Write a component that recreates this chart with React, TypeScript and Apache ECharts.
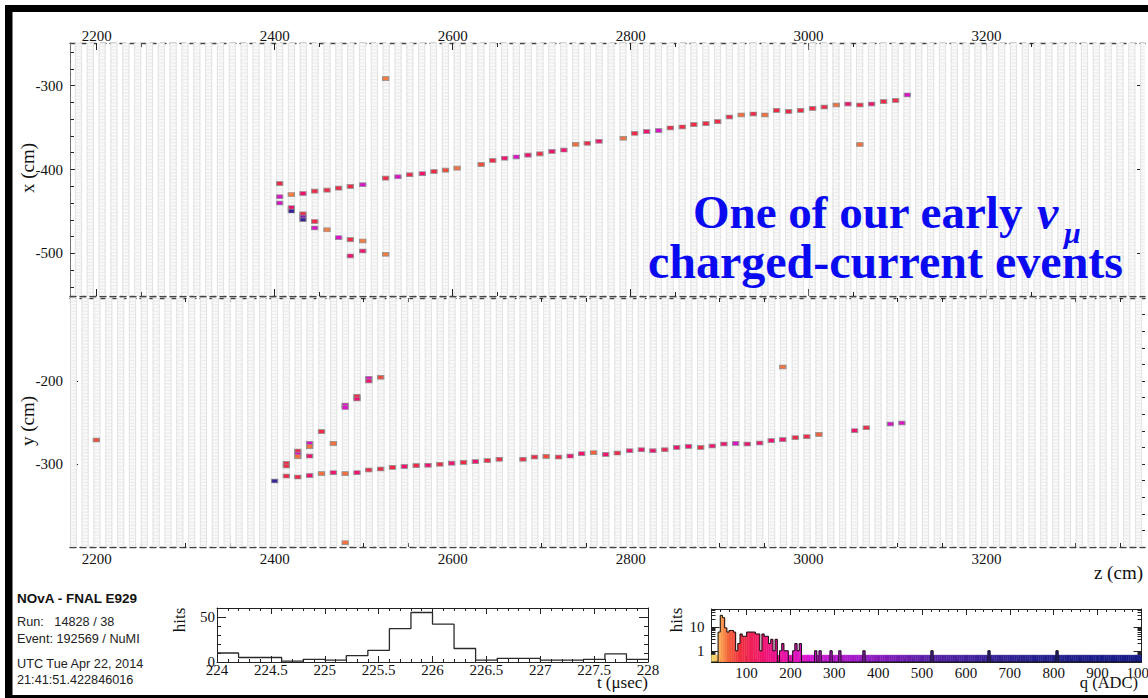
import React, { useEffect, useRef } from "react";
import * as echarts from "echarts";

const SERIF = '"Liberation Serif", "Times New Roman", serif';
const SANS = '"Liberation Sans", Arial, sans-serif';

// ---------------- event display (two views) ----------------
const zTickLabels = [2200, 2400, 2600, 2800, 3000, 3200];
const xViewTickLabels = [-300, -400, -500];
const yViewTickLabels = [-200, -300];
const Z_MIN = 2170;
const Z_MAX = 3378;
const XV_MIN = -551;
const XV_MAX = -249;
const YV_MIN = -400;
const YV_MAX = -100;

// detector geometry (plane positions, cell pitch)
const xPlaneZ0 = 2405.6;
const yPlaneZ0 = 2399.8;
const planePitch = 13.3;
const cellPitch = 3.97;

// hits in the x view: [z (cm), x (cm), charge (ADC)]
const xViewHits: number[][] = [
  [2405.6, -416.7, 100], [2405.6, -432.5, 230], [2405.6, -440.0, 230],
  [2418.7, -429.8, 52], [2418.7, -445.6, 140], [2418.7, -449.6, 650],
  [2431.8, -428.6, 140], [2431.8, -453.0, 95], [2431.8, -456.7, 400], [2431.8, -460.0, 650],
  [2445.0, -425.8, 95], [2445.0, -462.0, 95], [2445.0, -469.8, 230],
  [2458.8, -424.6, 95], [2458.8, -472.0, 52],
  [2471.9, -422.2, 95], [2471.9, -481.4, 230],
  [2485.0, -420.2, 95], [2485.0, -483.7, 95], [2485.0, -503.2, 140],
  [2499.0, -418.2, 230], [2499.0, -485.3, 52], [2499.0, -497.3, 140],
  [2524.7, -291.5, 52], [2524.7, -410.3, 95], [2524.7, -501.2, 52],
  [2538.5, -408.7, 230], [2551.7, -406.3, 95], [2565.9, -405.0, 140], [2579.0, -402.4, 95],
  [2592.0, -400.8, 70], [2605.0, -398.4, 55], [2632.0, -394.0, 70], [2645.0, -389.3, 95],
  [2658.4, -386.5, 140], [2671.5, -385.0, 230], [2684.6, -382.8, 140], [2698.0, -381.3, 95],
  [2711.6, -378.4, 140], [2725.0, -376.8, 140], [2738.2, -369.9, 55], [2751.3, -368.7, 95],
  [2764.4, -366.3, 140], [2791.7, -362.7, 55], [2804.5, -356.8, 95], [2818.0, -354.8, 140],
  [2831.5, -353.6, 230], [2844.6, -350.4, 95], [2858.0, -349.2, 95], [2871.0, -346.4, 95],
  [2884.6, -345.2, 95], [2897.8, -342.9, 95], [2910.9, -337.3, 95], [2924.3, -334.9, 55],
  [2937.8, -333.7, 95], [2950.9, -334.9, 55], [2964.0, -329.4, 95], [2977.5, -330.6, 95],
  [2991.0, -329.4, 95], [3004.5, -327.0, 95], [3017.6, -325.4, 95], [3031.0, -323.0, 55],
  [3044.2, -321.8, 140], [3057.6, -323.0, 95], [3057.6, -370.2, 55], [3070.8, -321.8, 140],
  [3084.3, -319.0, 95], [3097.8, -317.5, 95], [3110.9, -311.0, 230],
];

// hits in the y view: [z (cm), y (cm), charge (ADC)]
const yViewHits: number[][] = [
  [2199.6, -271.1, 70],
  [2400.0, -320.5, 650],
  [2413.1, -299.2, 95], [2413.1, -302.4, 95], [2413.1, -314.5, 95],
  [2426.0, -284.3, 95], [2426.0, -288.0, 230], [2426.0, -291.2, 55], [2426.0, -315.7, 95],
  [2439.3, -275.0, 230], [2439.3, -279.1, 55], [2439.3, -290.4, 140], [2439.3, -314.0, 140],
  [2452.6, -261.0, 95], [2452.6, -311.6, 55],
  [2465.9, -275.2, 55], [2465.9, -310.5, 140],
  [2479.2, -228.9, 230], [2479.2, -232.0, 230], [2479.2, -311.6, 55], [2479.2, -394.8, 55],
  [2492.5, -218.5, 95], [2492.5, -221.7, 140], [2492.5, -310.5, 140],
  [2505.8, -196.7, 230], [2505.8, -200.0, 140], [2505.8, -307.2, 95],
  [2519.1, -195.5, 70], [2519.1, -306.0, 95],
  [2532.4, -304.0, 95], [2545.7, -303.0, 140], [2559.0, -302.0, 95], [2572.3, -301.5, 140],
  [2585.6, -300.3, 95], [2598.9, -299.0, 140], [2612.2, -298.0, 95], [2625.5, -297.2, 140],
  [2638.9, -296.0, 95], [2652.4, -294.3, 95], [2679.0, -294.3, 95], [2692.0, -291.6, 95],
  [2705.0, -290.8, 70], [2719.0, -291.6, 95], [2732.0, -290.4, 140], [2745.0, -287.6, 140],
  [2758.4, -286.4, 60], [2772.0, -288.4, 140], [2785.0, -286.8, 95], [2798.9, -284.0, 140],
  [2812.0, -282.8, 140], [2825.0, -284.0, 140], [2838.4, -282.8, 110], [2851.7, -280.0, 140],
  [2865.0, -278.8, 140], [2878.7, -280.0, 95], [2891.7, -278.3, 140], [2904.8, -275.9, 140],
  [2918.0, -275.1, 230], [2931.0, -275.9, 140], [2945.0, -274.7, 140], [2958.0, -271.9, 140],
  [2971.0, -270.7, 140], [2971.0, -183.1, 55], [2985.0, -268.3, 95], [2998.0, -267.1, 95],
  [3011.6, -264.3, 60], [3051.7, -259.9, 140], [3064.8, -256.3, 95], [3091.8, -251.8, 230],
  [3104.8, -250.6, 230],
];

// ---------------- time histogram ----------------
const timeBinEdges = [224.0, 224.2, 224.4, 224.6, 224.8, 225.0, 225.2, 225.4, 225.6, 225.8,
  226.0, 226.2, 226.4, 226.6, 226.8, 227.0, 227.2, 227.4, 227.6, 227.8];
const timeBinWidth = 0.2;
const timeCounts = [10, 5, 5, 1, 3, 2, 7, 13, 37, 55, 42, 15, 2, 4, 4, 2, 2, 3, 9, 3];
const timeTickLabels = [224, 224.5, 225, 225.5, 226, 226.5, 227, 227.5, 228];
const timeHitLabels = [0, 50];

// ---------------- charge histogram ----------------
const chargeBinWidth = 5;
const chargeBinStarts = [20, 25, 30, 35, 40, 45, 50, 55, 60, 65, 70, 75, 80, 85, 90, 95, 100,
  105, 110, 115, 120, 125, 130, 135, 140, 145, 150, 155, 160, 165, 170, 175, 180, 185, 190,
  195, 200, 205, 210, 215, 220, 225, 230];
const chargeCounts = [0, 0, 0, 6, 30, 24, 9, 6, 7, 7, 6, 1, 2, 5, 4, 4, 6, 6, 6, 6, 5, 5, 1,
  5, 4, 4, 2, 3, 1, 3, 0, 1, 2, 1, 1, 0, 0, 1, 2, 1, 2, 0, 0];
const chargeSpikes: number[][] = [[255, 1], [265, 1], [290, 1], [310, 1], [365, 1], [520, 1], [650, 1], [805, 1]];
const chargeTickLabels = [100, 200, 300, 400, 500, 600, 700, 800, 900, 1000];
const chargeHitLabels = [1, 10];
const Q_MIN = 20;
const Q_MAX = 1000;
const QY_MIN = 0.34;
const QY_MAX = 55;
const Q_BAND = 0.66;

// colour palette (charge -> colour)
const paletteStops: [number, string][] = [
  [20, "#fbe46e"], [33, "#fcc062"], [45, "#f99448"], [60, "#f3603a"], [85, "#f0303f"],
  [140, "#f01470"], [190, "#e612aa"], [250, "#d414d6"], [340, "#a417c8"], [430, "#7a1cb6"],
  [520, "#5520a6"], [640, "#3a2198"], [760, "#25208e"], [1000, "#151a86"],
];

function hexRgb(h: string) {
  const n = parseInt(h.slice(1), 16);
  return [(n >> 16) & 255, (n >> 8) & 255, n & 255];
}
function paletteColor(q: number): string {
  const s = paletteStops;
  if (q <= s[0][0]) return s[0][1];
  for (let i = 0; i < s.length - 1; i++) {
    if (q <= s[i + 1][0]) {
      const t = (q - s[i][0]) / (s[i + 1][0] - s[i][0]);
      const a = hexRgb(s[i][1]);
      const b = hexRgb(s[i + 1][1]);
      const c = a.map((v, k) => Math.round(v + (b[k] - v) * t));
      return `rgb(${c[0]},${c[1]},${c[2]})`;
    }
  }
  return s[s.length - 1][1];
}

function range(a: number, b: number, s: number) {
  const r: number[] = [];
  for (let v = a; v <= b + 1e-9; v += s) r.push(Math.round(v * 1000) / 1000);
  return r;
}

const AX = "#222";

function axisPair(o: any) {
  const base = {
    gridIndex: o.grid,
    position: o.pos,
    type: o.type || "value",
    min: o.min,
    max: o.max,
    splitLine: { show: false },
    silent: true,
  };
  const major = {
    ...base,
    axisLine: {
      show: o.line !== "none",
      onZero: false,
      lineStyle: { color: o.lineColor || AX, width: o.lineWidth || 1, type: o.line === "dashed" ? [6, 4] : "solid" },
    },
    axisTick: { show: true, inside: true, length: o.majorLen, customValues: o.majors, lineStyle: { color: AX, width: 1 } },
    axisLabel: o.labels
      ? {
          show: true,
          customValues: o.labels,
          margin: o.margin,
          fontFamily: SERIF,
          fontSize: o.fontSize || 15,
          color: "#111",
          hideOverlap: false,
          formatter: (v: number) => String(v),
        }
      : { show: false },
  };
  const minor = {
    ...base,
    axisLine: { show: false, onZero: false },
    axisTick: { show: true, inside: true, length: o.minorLen, customValues: o.minors, lineStyle: { color: AX, width: 1 } },
    axisLabel: { show: false },
  };
  return [major, minor];
}

function planeSeries(xAxisIndex: number, yAxisIndex: number, z0: number, yMin: number, yMax: number) {
  const planes = range(z0 - 18 * planePitch, Z_MAX + planePitch, planePitch).map((z) => [z, yMin]);
  return {
    type: "custom",
    xAxisIndex,
    yAxisIndex,
    data: planes,
    encode: { x: 0, y: 1 },
    clip: true,
    silent: true,
    z: 1,
    renderItem: (params: any, api: any) => {
      const z = api.value(0);
      const top = api.coord([z, yMax]);
      const bot = api.coord([z, yMin]);
      const w = 6.2;
      const x0 = top[0] - w / 2;
      const x1 = top[0] + w / 2;
      const pts: number[][] = [];
      let i = 0;
      for (let v = yMax; v >= yMin; v -= cellPitch) {
        const py = api.coord([z, v])[1];
        if (i % 2 === 0) pts.push([x0, py], [x1, py]);
        else pts.push([x1, py], [x0, py]);
        i++;
      }
      return {
        type: "group",
        children: [
          { type: "rect", shape: { x: x0, y: top[1], width: w, height: bot[1] - top[1] }, style: { fill: "#f9f9f9", stroke: "#dedede", lineWidth: 0.8 } },
          { type: "polyline", shape: { points: pts }, style: { fill: null, stroke: "#e3e3e3", lineWidth: 0.6 } },
        ],
      };
    },
  };
}

function hitSeries(xAxisIndex: number, yAxisIndex: number, hits: number[][]) {
  return {
    type: "scatter",
    xAxisIndex,
    yAxisIndex,
    symbol: "rect",
    symbolSize: [6.2, 3.9],
    clip: true,
    z: 5,
    silent: true,
    itemStyle: { borderColor: "#909090", borderWidth: 0.9, opacity: 1 },
    data: hits.map((h) => ({ value: [h[0], h[1]], itemStyle: { color: paletteColor(h[2]) } })),
  };
}

function txt(text: string, x: number, y: number, o: any = {}) {
  return {
    type: "text",
    x,
    y,
    rotation: o.rotation || 0,
    z: o.z || 50,
    silent: true,
    style: {
      text,
      fill: o.color || "#111",
      fontSize: o.size || 15,
      fontFamily: o.family || SERIF,
      fontWeight: o.weight || "normal",
      fontStyle: o.style || "normal",
      textAlign: o.align || "left",
      align: o.align || "left",
      textVerticalAlign: "middle",
      verticalAlign: "middle",
    },
  };
}

function buildOption() {
  const xAxes: any[] = [];
  const yAxes: any[] = [];
  const addX = (o: any) => { const i = xAxes.length; xAxes.push(...axisPair(o)); return i; };
  const addY = (o: any) => { const i = yAxes.length; yAxes.push(...axisPair(o)); return i; };

  const zMinors = range(2200, 3350, 50);
  // grid 0: x view
  const gx0 = addX({ grid: 0, pos: "top", min: Z_MIN, max: Z_MAX, line: "dashed", lineColor: "#444", lineWidth: 1.4, majors: zTickLabels, minors: zMinors, labels: zTickLabels, margin: 0, majorLen: 7, minorLen: 4 });
  addX({ grid: 0, pos: "bottom", min: Z_MIN, max: Z_MAX, line: "dashed", lineColor: "#444", lineWidth: 1.4, majors: zTickLabels, minors: zMinors, majorLen: 7, minorLen: 4 });
  const gy0 = addY({ grid: 0, pos: "left", min: XV_MIN, max: XV_MAX, line: "solid", lineColor: "#555", majors: xViewTickLabels, minors: range(-540, -260, 20), labels: xViewTickLabels, margin: 7, majorLen: 8, minorLen: 4 });
  addY({ grid: 0, pos: "right", min: XV_MIN, max: XV_MAX, line: "none", majors: xViewTickLabels, minors: range(-540, -260, 20), majorLen: 8, minorLen: 4 });
  // grid 1: y view
  addX({ grid: 1, pos: "top", min: Z_MIN, max: Z_MAX, line: "dashed", lineColor: "#444", lineWidth: 1.4, majors: zTickLabels, minors: zMinors, majorLen: 7, minorLen: 4 });
  const gx1 = addX({ grid: 1, pos: "bottom", min: Z_MIN, max: Z_MAX, line: "dashed", lineColor: "#444", lineWidth: 1.4, majors: zTickLabels, minors: zMinors, labels: zTickLabels, margin: 4, majorLen: 7, minorLen: 4 });
  const gy1 = addY({ grid: 1, pos: "left", min: YV_MIN, max: YV_MAX, line: "solid", lineColor: "#555", majors: yViewTickLabels, minors: range(-380, -120, 20), labels: yViewTickLabels, margin: 7, majorLen: 8, minorLen: 4 });
  addY({ grid: 1, pos: "right", min: YV_MIN, max: YV_MAX, line: "none", majors: yViewTickLabels, minors: range(-380, -120, 20), majorLen: 8, minorLen: 4 });
  // grid 2: time histogram
  const tMinors = range(224, 228, 0.1);
  const gx2 = addX({ grid: 2, pos: "bottom", min: 224, max: 228, line: "solid", majors: timeTickLabels, minors: tMinors, labels: timeTickLabels, margin: 0, majorLen: 6, minorLen: 3 });
  addX({ grid: 2, pos: "top", min: 224, max: 228, line: "solid", majors: timeTickLabels, minors: tMinors, majorLen: 6, minorLen: 3 });
  const gy2 = addY({ grid: 2, pos: "left", min: 0, max: 60, line: "solid", majors: timeHitLabels, minors: range(10, 60, 10), labels: timeHitLabels, margin: 2, majorLen: 9, minorLen: 4 });
  addY({ grid: 2, pos: "right", min: 0, max: 60, line: "solid", majors: timeHitLabels, minors: range(10, 60, 10), majorLen: 9, minorLen: 4 });
  // grid 3: charge histogram
  const qMinors = range(20, 1000, 20);
  const qyMinors = [0.4, 0.5, 0.6, 0.7, 0.8, 0.9, 2, 3, 4, 5, 6, 7, 8, 9, 20, 30, 40, 50];
  const gx3 = addX({ grid: 3, pos: "bottom", min: Q_MIN, max: Q_MAX, line: "solid", majors: chargeTickLabels, minors: qMinors, labels: chargeTickLabels, margin: 3, majorLen: 6, minorLen: 3 });
  addX({ grid: 3, pos: "top", min: Q_MIN, max: Q_MAX, line: "solid", majors: chargeTickLabels, minors: qMinors, majorLen: 6, minorLen: 3 });
  const gy3 = addY({ grid: 3, pos: "left", type: "log", min: QY_MIN, max: QY_MAX, line: "solid", majors: chargeHitLabels, minors: qyMinors, labels: chargeHitLabels, margin: 7, majorLen: 8, minorLen: 4 });
  addY({ grid: 3, pos: "right", type: "log", min: QY_MIN, max: QY_MAX, line: "solid", majors: chargeHitLabels, minors: qyMinors, majorLen: 8, minorLen: 4 });

  // charge histogram bins
  const qBins: number[][] = [];
  for (let q = Q_MIN; q < Q_MAX; q += chargeBinWidth) {
    let c = 0;
    const li = chargeBinStarts.indexOf(q);
    if (li >= 0) c = chargeCounts[li];
    for (const s of chargeSpikes) if (s[0] === q) c = s[1];
    qBins.push([q, q + chargeBinWidth, c]);
  }
  const qOutline = qBins.map((b) => [b[0], Math.max(b[2], QY_MIN)]);
  qOutline.push([Q_MAX, Math.max(qBins[qBins.length - 1][2], QY_MIN)]);

  const tLine = timeBinEdges.map((e, i) => [e, timeCounts[i]]);
  tLine.push([timeBinEdges[timeBinEdges.length - 1] + timeBinWidth, timeCounts[timeCounts.length - 1]]);

  const series: any[] = [
    planeSeries(gx0, gy0, xPlaneZ0, XV_MIN, XV_MAX),
    planeSeries(gx1, gy1, yPlaneZ0, YV_MIN, YV_MAX),
    hitSeries(gx0, gy0, xViewHits),
    hitSeries(gx1, gy1, yViewHits),
    {
      type: "line",
      xAxisIndex: gx2,
      yAxisIndex: gy2,
      step: "end",
      showSymbol: false,
      silent: true,
      data: tLine,
      lineStyle: { color: "#2a2a2a", width: 1.3 },
      z: 4,
    },
    {
      type: "custom",
      xAxisIndex: gx3,
      yAxisIndex: gy3,
      data: qBins.map((b) => [b[0], b[1], Math.max(b[2], Q_BAND)]),
      encode: { x: [0, 1], y: 2 },
      clip: true,
      silent: true,
      z: 2,
      renderItem: (params: any, api: any) => {
        const q0 = api.value(0);
        const q1 = api.value(1);
        const c = api.value(2);
        const tl = api.coord([q0, c]);
        const br = api.coord([q1, QY_MIN]);
        const col = paletteColor((q0 + q1) / 2);
        return {
          type: "rect",
          shape: { x: tl[0], y: tl[1], width: br[0] - tl[0], height: br[1] - tl[1] },
          style: { fill: col, stroke: col, lineWidth: 0.4 },
        };
      },
    },
    {
      type: "line",
      xAxisIndex: gx3,
      yAxisIndex: gy3,
      step: "end",
      showSymbol: false,
      silent: true,
      data: qOutline,
      lineStyle: { color: "#111", width: 1 },
      z: 4,
    },
  ];

  const graphic: any[] = [
    // slide frame
    { type: "rect", shape: { x: 5, y: 5, width: 1143, height: 7 }, style: { fill: "#000" }, z: 100, silent: true },
    { type: "rect", shape: { x: 5, y: 5, width: 7.5, height: 693 }, style: { fill: "#000" }, z: 100, silent: true },
    { type: "rect", shape: { x: 5, y: 695, width: 1143, height: 3 }, style: { fill: "#000" }, z: 100, silent: true },
    // axis titles
    txt("x (cm)", 27, 168, { size: 19, rotation: Math.PI / 2, align: "center" }),
    txt("y (cm)", 27, 421, { size: 19, rotation: Math.PI / 2, align: "center" }),
    txt("z (cm)", 1143, 572, { size: 19, align: "right" }),
    txt("hits", 179, 620, { size: 17, rotation: Math.PI / 2, align: "center" }),
    txt("t (\u03bcsec)", 648, 682, { size: 17, align: "right" }),
    txt("hits", 676, 620, { size: 17, rotation: Math.PI / 2, align: "center" }),
    txt("q (ADC)", 1138, 682, { size: 16.5, align: "right" }),
    // run info
    txt("NOvA - FNAL E929", 17, 598, { family: SANS, size: 13.5, weight: "bold", color: "#111" }),
    txt("Run:   14828 / 38", 17, 622, { family: SANS, size: 12.7, color: "#222" }),
    txt("Event: 192569 / NuMI", 17, 639, { family: SANS, size: 12.7, color: "#222" }),
    txt("UTC Tue Apr 22, 2014", 17, 664, { family: SANS, size: 12.7, color: "#222" }),
    txt("21:41:51.422846016", 17, 680, { family: SANS, size: 12.7, color: "#222" }),
    // slide annotation
    txt("One of our early", 693, 212, { size: 47, weight: "bold", color: "#0a0af0", z: 120 }),
    txt("\u03bd", 1037, 212, { size: 48, weight: "bold", style: "italic", color: "#0a0af0", z: 120 }),
    txt("\u03bc", 1064, 232, { size: 30, weight: "bold", style: "italic", color: "#0a0af0", z: 120 }),
    txt("charged-current events", 648, 261, { size: 48, weight: "bold", color: "#0a0af0", z: 120 }),
  ];

  return {
    animation: false,
    backgroundColor: "#ffffff",
    grid: [
      { left: 70, top: 43, width: 1075, height: 253, containLabel: false, outerBoundsMode: "none" },
      { left: 70, top: 298, width: 1075, height: 249, containLabel: false, outerBoundsMode: "none" },
      { left: 217, top: 608, width: 431, height: 54, containLabel: false, outerBoundsMode: "none" },
      { left: 711.5, top: 609, width: 430, height: 53, containLabel: false, outerBoundsMode: "none" },
    ],
    xAxis: xAxes,
    yAxis: yAxes,
    series,
    graphic,
  };
}

export default function App() {
  const ref = useRef<HTMLDivElement>(null);
  useEffect(() => {
    if (!ref.current) return;
    const chart = echarts.init(ref.current, undefined, { renderer: "svg" });
    chart.setOption(buildOption() as any);
    return () => chart.dispose();
  }, []);
  return (
    <div
      ref={ref}
      style={{ position: "absolute", left: 0, top: 0, width: 1148, height: 698, background: "#fff" }}
    />
  );
}
